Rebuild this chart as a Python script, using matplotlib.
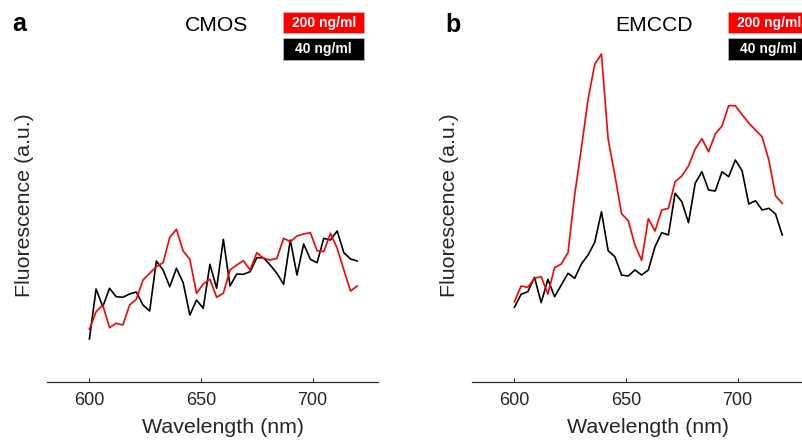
import matplotlib
matplotlib.use("Agg")
import matplotlib.pyplot as plt
from matplotlib.patches import Rectangle
import numpy as np

plt.rcParams['font.family'] = ['Liberation Sans', 'DejaVu Sans']

wavelength = np.arange(600, 721, 3)

cmos_200 = [52.7, 70.3, 77, 54.3, 58.7, 57, 77, 82.7, 102, 108.7, 115.3, 119.3, 144.7, 152.7,
            131, 122.7, 88.7, 98, 102.7, 84.7, 88.7, 112, 117, 121.3, 112, 129.3, 123.7, 122,
            123.7, 143.7, 140.3, 146, 148, 149.3, 131.3, 130.3, 148.7, 133.7, 112, 91, 96]
cmos_40 = [43, 93, 75.3, 93.7, 85.3, 84.7, 88, 90, 77, 71, 121, 112, 95.3, 113.7, 99.3, 67,
           82, 73.7, 117.7, 93.7, 142.7, 96, 108, 107.7, 110.3, 124.3, 124.3, 117, 108.7,
           97.7, 142, 107, 138, 122.7, 119.3, 143.7, 142, 151, 129.3, 123, 121]
emccd_200 = [80.3, 96, 94.7, 103.7, 105.3, 88, 114.3, 118, 129.3, 187, 233.7, 282.7, 317.7,
             328, 242.7, 207, 168.3, 161.3, 137, 121.7, 163.3, 151, 172, 173.7, 200.3, 206,
             216, 233, 243.3, 230.3, 248, 256, 276.3, 276.3, 267.3, 259, 252, 245, 222,
             186.3, 178.7]
emccd_40 = [74.7, 87.7, 90.3, 104.7, 79.3, 102.7, 85.3, 97, 108.7, 103.7, 118, 127, 139.7,
            170.3, 131.3, 125.3, 107, 106, 112, 107, 112, 135.3, 149.3, 147, 188.7, 180.3,
            159.3, 198.7, 210.3, 192, 191, 210.3, 205.3, 222, 211.3, 178, 181.3, 172, 173.7,
            168, 147]

panels = ["a", "b"]
titles = ["CMOS", "EMCCD"]
series = [(cmos_200, cmos_40), (emccd_200, emccd_40)]
legend_labels = ["200 ng/ml", "40 ng/ml"]
xticks = [600, 650, 700]

W, H = 803, 441
fig = plt.figure(figsize=(W / 100, H / 100), dpi=100)

axis_color = "#2b2b2b"
text_color = "#262626"
xmin, xmax = 581, 729.3
ymax = 354

ax_lefts = [47, 472]
ax_width = 331
for i, (left, (s200, s40)) in enumerate(zip(ax_lefts, series)):
    ax = fig.add_axes([left / W, (H - 382) / H, ax_width / W, ymax / H])
    ax.plot(wavelength, s200, color="#ff0000", lw=1.2, zorder=3)
    ax.plot(wavelength, s40, color="black", lw=1.2, zorder=2)
    ax.set_xlim(xmin, xmax)
    ax.set_ylim(0, ymax)
    for sp in ["top", "right", "left"]:
        ax.spines[sp].set_visible(False)
    ax.spines["bottom"].set_color(axis_color)
    ax.spines["bottom"].set_linewidth(0.9)
    ax.set_yticks([])
    ax.set_xticks(xticks)
    ax.tick_params(axis="x", direction="in", length=3, width=0.8, color=axis_color,
                   labelsize=13, labelcolor=text_color, pad=7.5)
    ax.set_xlabel("Wavelength (nm)", fontsize=15.4, color=text_color)
    ax.xaxis.set_label_coords((660 - xmin) / (xmax - xmin), -0.101)
    ax.set_ylabel("Fluorescence (a.u.)", fontsize=15.4, color=text_color)
    ax.yaxis.set_label_coords(-0.038, 0.5)

# overlay in pixel coordinates for annotations
ov = fig.add_axes([0, 0, 1, 1], zorder=10)
ov.set_xlim(0, W)
ov.set_ylim(H, 0)
ov.axis("off")
ov.patch.set_alpha(0)

panel_pos = [(12, 30.7), (445, 31.5)]
title_pos = [(217, 30.7), (654.5, 30.7)]
box_left = [283.3, 728.3]
for i in range(2):
    ov.text(panel_pos[i][0], panel_pos[i][1], panels[i], fontsize=18, fontweight="bold",
            ha="left", va="baseline", color="black")
    ov.text(title_pos[i][0], title_pos[i][1], titles[i], fontsize=15.2,
            ha="center", va="baseline", color="black")
    for j, (lab, col, y0) in enumerate(zip(legend_labels, ["#ff0000", "black"], [11.7, 38.3])):
        ov.add_patch(Rectangle((box_left[i], y0), 81, 21.7, facecolor=col,
                               edgecolor="#bbbbbb", lw=0.5, clip_on=False))
        ov.text(box_left[i] + 40.5, y0 + 11, lab, fontsize=10, fontweight="bold",
                color="white", ha="center", va="center")

fig.savefig("out.png", dpi=100)
